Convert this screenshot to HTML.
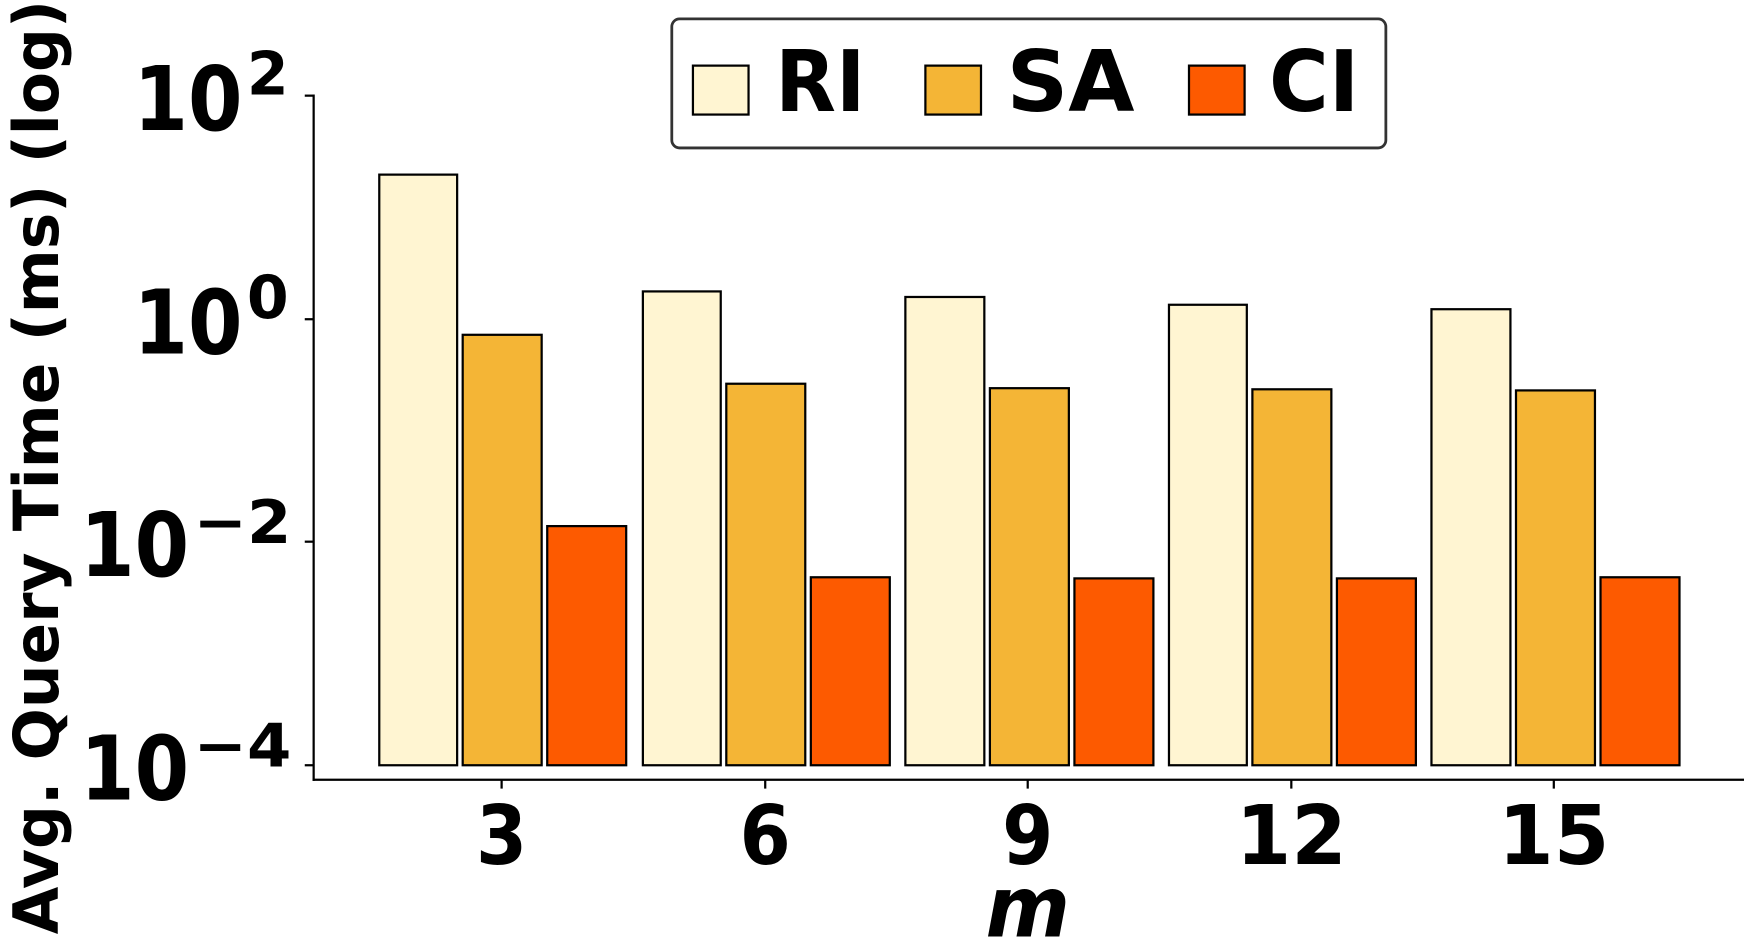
<!DOCTYPE html>
<html><head><style>html,body{margin:0;padding:0;background:#fff;}svg{display:block}</style></head>
<body>
<svg width="1744" height="951" viewBox="0 0 1568 855" preserveAspectRatio="none" xmlns="http://www.w3.org/2000/svg" font-family="DejaVu Sans, Liberation Sans, sans-serif" font-weight="bold">
<g stroke="#000" stroke-width="2">
<rect x="341" y="157" width="70" height="531" fill="#fff5d2"/>
<rect x="416" y="301" width="71" height="387" fill="#f4b536"/>
<rect x="492" y="473" width="71" height="215" fill="#fd5a00"/>
<rect x="578" y="262" width="70" height="426" fill="#fff5d2"/>
<rect x="653" y="345" width="71" height="343" fill="#f4b536"/>
<rect x="729" y="519" width="71" height="169" fill="#fd5a00"/>
<rect x="814" y="267" width="71" height="421" fill="#fff5d2"/>
<rect x="890" y="349" width="71" height="339" fill="#f4b536"/>
<rect x="966" y="520" width="71" height="168" fill="#fd5a00"/>
<rect x="1051" y="274" width="70" height="414" fill="#fff5d2"/>
<rect x="1126" y="350" width="71" height="338" fill="#f4b536"/>
<rect x="1202" y="520" width="71" height="168" fill="#fd5a00"/>
<rect x="1287" y="278" width="71" height="410" fill="#fff5d2"/>
<rect x="1363" y="351" width="71" height="337" fill="#f4b536"/>
<rect x="1439" y="519" width="71" height="169" fill="#fd5a00"/>
</g>
<g stroke="#000" stroke-width="2">
<line x1="282" y1="85" x2="282" y2="702"/>
<line x1="281" y1="701" x2="1568" y2="701"/>
<line x1="274" y1="86" x2="282" y2="86"/>
<line x1="274" y1="287" x2="282" y2="287"/>
<line x1="274" y1="487" x2="282" y2="487"/>
<line x1="274" y1="688" x2="282" y2="688"/>
<line x1="451" y1="701" x2="451" y2="709"/>
<line x1="688" y1="701" x2="688" y2="709"/>
<line x1="924" y1="701" x2="924" y2="709"/>
<line x1="1161" y1="701" x2="1161" y2="709"/>
<line x1="1397" y1="701" x2="1397" y2="709"/>
</g>
<g font-size="80">
<text x="120" y="117" textLength="98" lengthAdjust="spacingAndGlyphs">10</text><text x="222" y="85" font-size="54">2</text>
<text x="120" y="318" textLength="98" lengthAdjust="spacingAndGlyphs">10</text><text x="222" y="286" font-size="54">0</text>
<text x="72" y="518" textLength="98" lengthAdjust="spacingAndGlyphs">10</text><text x="174" y="488" font-size="54" textLength="88" lengthAdjust="spacingAndGlyphs">−2</text>
<text x="72" y="719" textLength="98" lengthAdjust="spacingAndGlyphs">10</text><text x="174" y="689" font-size="54" textLength="88" lengthAdjust="spacingAndGlyphs">−4</text>
</g>
<g font-size="74" text-anchor="middle">
<text x="451" y="777" textLength="46" lengthAdjust="spacingAndGlyphs">3</text><text x="688" y="777" textLength="46" lengthAdjust="spacingAndGlyphs">6</text><text x="924" y="777" textLength="46" lengthAdjust="spacingAndGlyphs">9</text><text x="1161" y="777" textLength="100" lengthAdjust="spacingAndGlyphs">12</text><text x="1397" y="777" textLength="100" lengthAdjust="spacingAndGlyphs">15</text>
</g>
<text x="924" y="842" font-size="76" font-style="italic" text-anchor="middle" textLength="76" lengthAdjust="spacingAndGlyphs">m</text>
<text transform="translate(52,420) rotate(-90)" font-size="56" text-anchor="middle" textLength="840" lengthAdjust="spacingAndGlyphs">Avg. Query Time (ms) (log)</text>
<rect x="604" y="17" width="642" height="116" rx="7" fill="#fff" stroke="#333" stroke-width="2.5"/>
<g stroke="#000" stroke-width="2">
<rect x="623" y="59" width="50" height="44" fill="#fff5d2"/>
<rect x="832" y="59" width="50" height="44" fill="#f4b536"/>
<rect x="1069" y="59" width="50" height="44" fill="#fd5a00"/>
</g>
<g font-size="76">
<text x="697" y="100" textLength="81" lengthAdjust="spacingAndGlyphs">RI</text><text x="905" y="100" textLength="115" lengthAdjust="spacingAndGlyphs">SA</text><text x="1141" y="100" textLength="81" lengthAdjust="spacingAndGlyphs">CI</text>
</g>
</svg>
</body></html>
